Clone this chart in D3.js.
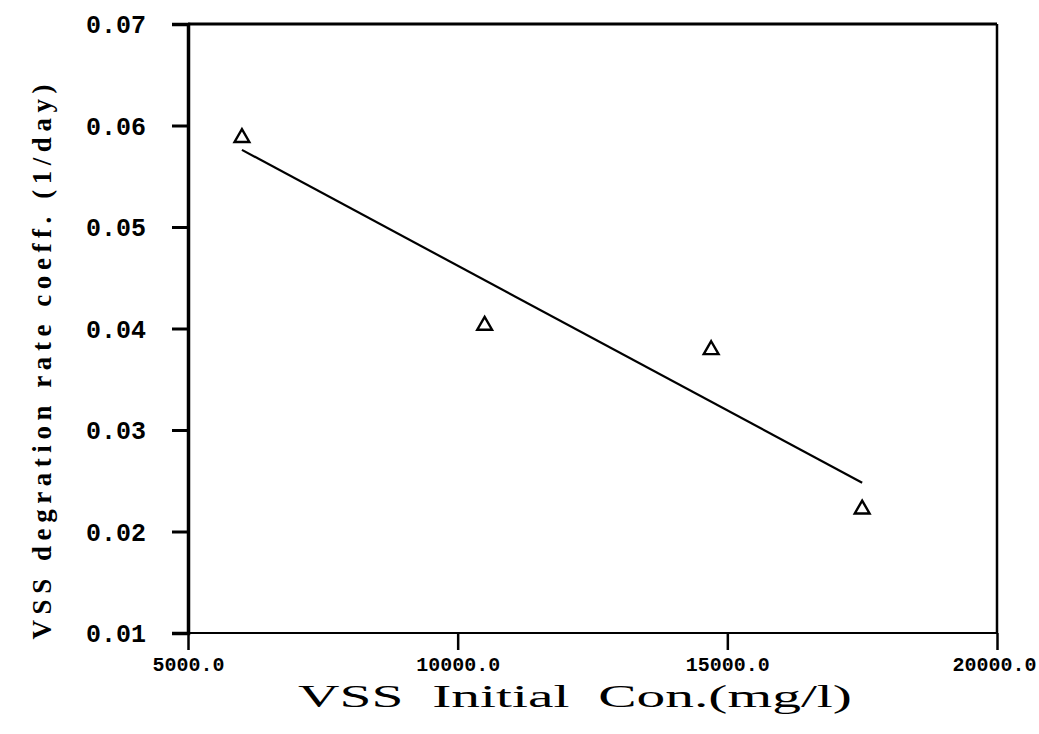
<!DOCTYPE html>
<html>
<head>
<meta charset="utf-8">
<script src="https://cdn.jsdelivr.net/npm/d3@7"></script>
<style>
  body { margin: 0; background: #fff; }
  svg { display: block; }
</style>
</head>
<body>
<svg id="chart"></svg>
<script>
const outerWidth = 1039;
const outerHeight = 734;
const margin = {left: 188, top: 24, right: 42, bottom: 101};
const width = outerWidth - margin.left - margin.right;
const height = outerHeight - margin.top - margin.bottom;

// measured points (triangles)
const concentration = [6000, 10500, 14700, 17500];
const rateCoeff = [0.0588, 0.0403, 0.0379, 0.0222];
// fitted line end points
const fitConc = [6000, 17500];
const fitRate = [0.0576, 0.0248];
// ticks
const xTicks = [5000, 10000, 15000, 20000];
const yTicks = [0.01, 0.02, 0.03, 0.04, 0.05, 0.06, 0.07];

var x = d3.scaleLinear().domain([5000, 20000]).range([0, width]);
var y = d3.scaleLinear().domain([0.01, 0.07]).range([height, 0]);

var svg = d3.select("#chart")
  .attr("width", outerWidth)
  .attr("height", outerHeight)
  .append("g")
  .attr("transform", "translate(" + margin.left + "," + margin.top + ")");

// frame
svg.append("line").attr("x1", 0).attr("x2", width).attr("y1", 0).attr("y2", 0)
  .style("stroke", "black").style("stroke-width", 3);
svg.append("line").attr("x1", width).attr("x2", width).attr("y1", 0).attr("y2", height)
  .style("stroke", "black").style("stroke-width", 2.5);

// y axis
var yAxis = svg.append("g")
  .call(d3.axisLeft(y).tickValues(yTicks).tickFormat(d3.format(".2f")).tickSize(16).tickPadding(26));
yAxis.select(".domain").style("stroke-width", 3.5);
yAxis.selectAll(".tick line").style("stroke-width", 3);
yAxis.selectAll("text")
  .style("font-family", "'Liberation Mono', monospace")
  .style("font-weight", "bold")
  .style("font-size", "25px")
  .attr("dy", "0.35em");

// x axis
var xAxis = svg.append("g")
  .attr("transform", "translate(0," + height + ")")
  .call(d3.axisBottom(x).tickValues(xTicks).tickFormat(d3.format(".1f")).tickSize(17).tickPadding(7));
xAxis.select(".domain").remove();
svg.append("line").attr("x1", -16).attr("x2", width).attr("y1", height).attr("y2", height)
  .style("stroke", "black").style("stroke-width", 2);
xAxis.selectAll(".tick line").style("stroke-width", 2.5);
xAxis.selectAll("text")
  .style("font-family", "'Liberation Mono', monospace")
  .style("font-weight", "bold")
  .style("font-size", "20px")
  .attr("dx", (d, i) => i === xTicks.length - 1 ? -3 : 0);

// regression line
var line = d3.line().x(d => x(d[0])).y(d => y(d[1]));
svg.append("path")
  .datum(d3.zip(fitConc, fitRate))
  .attr("d", line)
  .style("fill", "none").style("stroke", "black").style("stroke-width", 2.2);

// points
svg.append("g").selectAll("path")
  .data(d3.zip(concentration, rateCoeff))
  .enter()
  .append("path")
  .attr("transform", d => "translate(" + x(d[0]) + "," + y(d[1]) + ")")
  .attr("d", d3.symbol().type(d3.symbolTriangle).size(95))
  .style("fill", "none").style("stroke", "black").style("stroke-width", 2.4);

// axis titles
svg.append("text")
  .attr("x", (298 + 852) / 2 - margin.left)
  .attr("y", height + 74)
  .attr("text-anchor", "middle")
  .attr("textLength", 554)
  .attr("lengthAdjust", "spacingAndGlyphs")
  .style("font-family", "'Liberation Serif', serif")
  .style("font-size", "31px")
  .style("white-space", "pre")
  .text("VSS  Initial  Con.(mg/l)");

svg.append("text")
  .attr("transform", "translate(" + (51 - margin.left) + "," + (362 - margin.top) + ") rotate(-90)")
  .attr("text-anchor", "middle")
  .attr("textLength", 555)
  .style("font-family", "'Liberation Serif', serif")
  .style("font-weight", "bold")
  .style("font-size", "27px")
  .text("VSS degration rate coeff. (1/day)");
</script>
</body>
</html>
